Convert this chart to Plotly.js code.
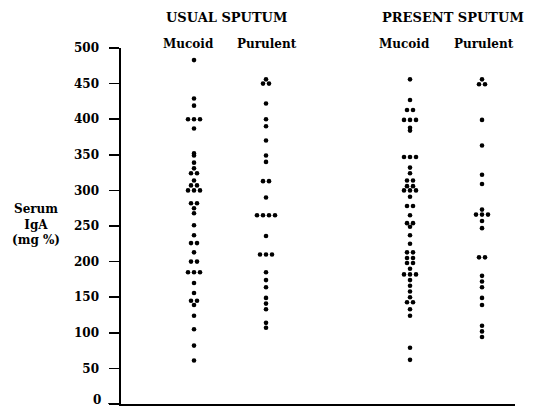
<!DOCTYPE html>
<html>
<head>
<meta charset="utf-8">
<script src="https://cdn.plot.ly/plotly-3.0.1.min.js"></script>
<style>html,body{margin:0;padding:0;background:#fff;}#chart{width:537px;height:408px;}</style>
</head>
<body>
<div id="chart"></div>
<script>
// ---- Data (Serum IgA, mg %) ----
const groups = ["USUAL SPUTUM", "PRESENT SPUTUM"];
const subgroups = ["Mucoid", "Purulent"];
const usualMucoid = [483, 429, 419, 400, 400, 400, 387, 352, 349, 339, 331, 324, 324, 314, 307, 307,
  300, 300, 300, 282, 282, 275, 268, 251, 237, 226, 226, 213, 200, 200, 185, 185, 185, 170, 156,
  145, 145, 139, 124, 105, 82, 61];
const usualPurulent = [456, 450, 450, 422, 400, 390, 370, 349, 340, 313, 313, 290, 265, 265, 265, 265,
  236, 210, 210, 210, 185, 174, 164, 149, 141, 133, 114, 107];
const presentMucoid = [456, 427, 413, 413, 399, 399, 399, 388, 384, 347, 347, 347, 332, 324, 314, 314,
  306, 306, 300, 300, 300, 291, 278, 278, 265, 254, 254, 249, 237, 225, 213, 213, 205, 205, 198, 198,
  190, 182, 182, 182, 174, 166, 158, 150, 143, 143, 133, 124, 79, 62];
const presentPurulent = [456, 449, 449, 399, 363, 322, 309, 273, 266, 266, 266, 257, 247, 206, 206,
  180, 172, 164, 149, 139, 110, 102, 94];
const yTicks = [0, 50, 100, 150, 200, 250, 300, 350, 400, 450, 500];

// ---- Layout helpers ----
const series = [usualMucoid, usualPurulent, presentMucoid, presentPurulent];
const centers = [1, 2, 4, 5];
const X0 = -0.014;
const XR = [X0, X0 + 394 / 72];
const spacing = 6 / 72;

function swarm(values, center) {
  const counts = {}, seen = {};
  values.forEach(v => { counts[v] = (counts[v] || 0) + 1; });
  return values.map(v => {
    const i = seen[v] || 0; seen[v] = i + 1;
    return center + (i - (counts[v] - 1) / 2) * spacing;
  });
}

const traces = series.map((vals, k) => ({
  type: 'scatter', mode: 'markers',
  x: swarm(vals, centers[k]), y: vals,
  marker: {color: '#000', size: 4.6},
  cliponaxis: false, hoverinfo: 'skip', showlegend: false
}));

// paper-y from pixel-y (plot area: top 48, height 356)
const py = p => (404 - p) / 356;
const px = p => (p - 121) / 394;
const serif = 'DejaVu Serif, Liberation Serif, serif';
const annotations = [];
const groupCenters = [1.458, 4.597];
groups.forEach((g, i) => annotations.push({
  text: g, xref: 'x', yref: 'paper', x: groupCenters[i], y: py(17), showarrow: false,
  xanchor: 'center', yanchor: 'middle', font: {family: serif, size: 13, color: '#000', weight: 'bold'}
}));
const subCenters = [0.917, 2.014, 3.93, 5.028];
subCenters.forEach((c, i) => annotations.push({
  text: subgroups[i % 2], xref: 'x', yref: 'paper', x: c, y: py(44), showarrow: false,
  xanchor: 'center', yanchor: 'middle', font: {family: serif, size: 12, color: '#000', weight: 'bold'}
}));
annotations.push({
  text: 'Serum<br>IgA<br>(mg %)', xref: 'paper', yref: 'paper', x: -0.216, y: py(224), showarrow: false,
  xanchor: 'center', yanchor: 'middle', align: 'center',
  font: {family: serif, size: 12, color: '#000', weight: 'bold'}
});
// the bottom "0" label, lifted a little so it stays inside the page
annotations.push({
  text: String(yTicks[0]), xref: 'paper', yref: 'paper', x: px(102), y: py(408), showarrow: false,
  xanchor: 'right', yanchor: 'bottom', borderpad: 0,
  font: {family: serif, size: 12, color: '#000', weight: 'bold'}
});

const layout = {
  width: 537, height: 408, autosize: false,
  margin: {l: 121, r: 22, t: 48, b: 4, pad: 0},
  paper_bgcolor: '#fff', plot_bgcolor: '#fff',
  showlegend: false,
  xaxis: {range: XR, showgrid: false, zeroline: false, showticklabels: false, ticks: '',
    showline: true, linecolor: '#000', linewidth: 1.6, fixedrange: true},
  yaxis: {range: [0, 500], tickvals: yTicks, ticktext: yTicks.map(v => v === 0 ? '' : String(v)),
    ticks: 'outside',
    ticklen: 10, tickwidth: 1.5, tickcolor: '#000', showgrid: false, zeroline: false,
    showline: true, linecolor: '#000', linewidth: 1.6, ticklabelstandoff: 8,
    ticklabeloverflow: 'allow',
    tickfont: {family: serif, size: 12, color: '#000', weight: 'bold'}, fixedrange: true},
  shapes: [{type: 'line', xref: 'paper', yref: 'y', x0: -0.033, x1: 0, y0: 0, y1: 0,
    line: {color: '#000', width: 1.6}}],
  annotations: annotations
};

Plotly.newPlot('chart', traces, layout, {displayModeBar: false, staticPlot: true});
</script>
</body>
</html>
